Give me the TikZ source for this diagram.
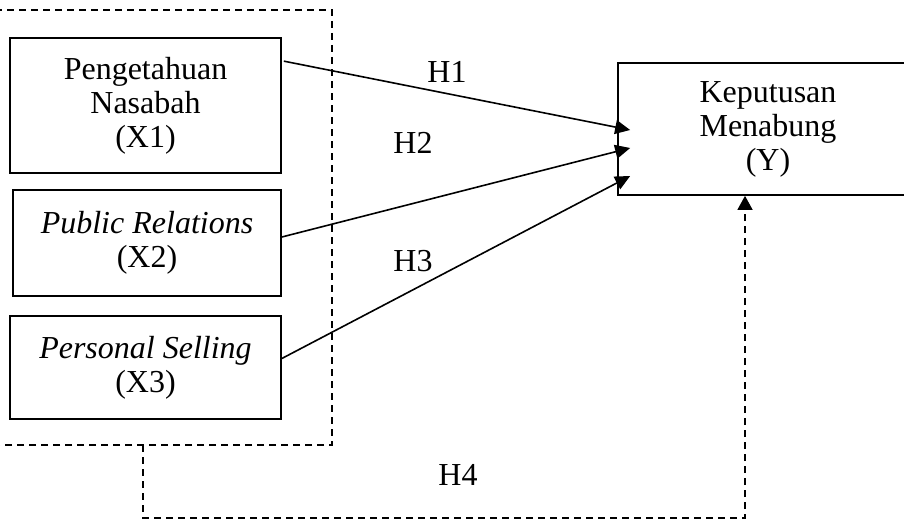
\documentclass[tikz,border=0pt]{standalone}
\usepackage{fontspec}
\setmainfont{Liberation Serif}
\usetikzlibrary{arrows.meta,calc}
\begin{document}
\begin{tikzpicture}[x=1pt,y=-1pt,
  box/.style={draw, line width=1.7pt, align=center, inner sep=0pt, font=\fontsize{32}{34}\selectfont},
  lab/.style={font=\fontsize{32}{34}\selectfont, inner sep=0pt},
  conn/.style={line width=1.6pt, -{Triangle[length=15pt,width=14pt]}},
  grp/.style={line width=1.5pt, dash pattern=on 7pt off 5pt}]
\useasboundingbox (0,0) rectangle (904,527);
\clip (0,0) rectangle (904,527);
\fill[white] (0,0) rectangle (904,527);
% group outline
\draw[grp] (-5,10) -- (332,10) -- (332,445) -- (-5,445);
\coordinate (g) at (143,445);
% boxes
\node[box, minimum width=271pt, minimum height=135pt] (x1) at (145.5,105.5) {Pengetahuan\\Nasabah\\(X1)};
\node[box, minimum width=268pt, minimum height=106pt] (x2) at (147,243) {\textit{Public Relations}\\(X2)};
\node[box, minimum width=271pt, minimum height=103pt] (x3) at (145.5,367.5) {\textit{Personal Selling}\\(X3)};
\node[box, minimum width=300pt, minimum height=132pt] (y) at (768,129) {Keputusan\\Menabung\\(Y)};
% connectors
\draw[conn] ($(x1.north east)+(2,24)$) -- ($(y.west)+(13,1)$);
\draw[conn] ($(x2.east)+(0,-6)$) -- ($(y.west)+(13,19)$);
\draw[conn] ($(x3.east)+(0,-9)$) -- ($(y.west)+(13,47)$);
\draw[grp, -{Triangle[length=14pt,width=15pt]}] (g) -- ++(0,73) -| ($(y.south)+(-23,0)$);
% labels
\node[lab] (h1) at (447,72) {H1};
\node[lab] (h2) at (413,143) {H2};
\node[lab] (h3) at (413,261) {H3};
\node[lab] (h4) at (458,475) {H4};
\end{tikzpicture}
\end{document}
